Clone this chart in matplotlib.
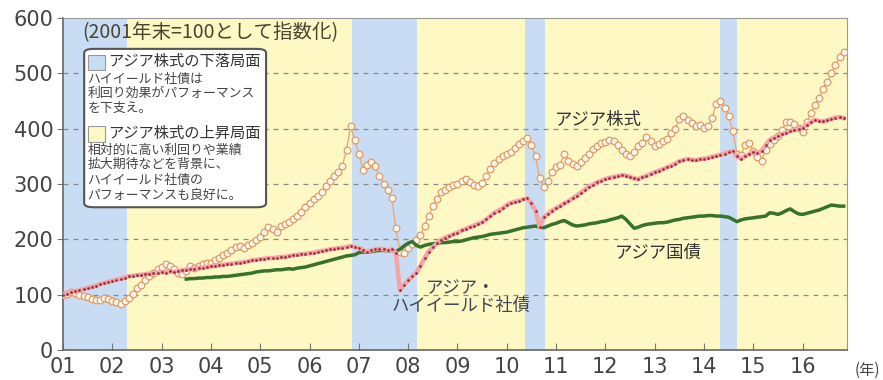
import numpy as np
import matplotlib.pyplot as plt
from matplotlib.patches import Rectangle, FancyBboxPatch

plt.rcParams['font.family'] = ['Noto Sans CJK JP', 'DejaVu Sans']

# Monthly index values (end of 2001 = 100), one row per year on the axis
asia_equity = [
    100, 102, 104, 103, 100, 98, 95, 92, 90, 91, 94, 92,
    89, 86, 84, 88, 94, 102, 112, 118, 127, 133, 140, 146,
    150, 155, 152, 146, 140, 137, 143, 151, 148, 152, 155, 157,
    158, 162, 166, 172, 176, 180, 186, 188, 185, 190, 194, 198,
    205, 214, 222, 218, 214, 224, 228, 232, 236, 242, 249, 258,
    265, 273, 279, 285, 296, 305, 314, 322, 333, 362, 405, 380,
    355, 325, 335, 340, 332, 315, 300, 290, 275, 220, 178, 175,
    185, 192, 198, 207, 225, 242, 260, 272, 285, 290, 295, 298,
    300, 305, 309, 303, 298, 296, 302, 314, 328, 338, 345, 350,
    354, 358, 365, 372, 378, 383, 370, 350, 310, 295, 305, 322,
    330, 334, 355, 342, 336, 333, 340, 347, 355, 364, 368, 375,
    376, 380, 378, 370, 362, 355, 351, 358, 368, 375, 385, 378,
    368, 372, 378, 382, 392, 400, 418, 422, 415, 410, 404, 406,
    402, 405, 420, 445, 450, 438, 422, 395, 355, 352, 370, 375,
    360, 348, 342, 362, 372, 380, 386, 398, 412, 412, 408, 402,
    394, 412, 428, 442, 455, 472, 485, 500, 515, 530, 538,
]
asia_high_yield = [
    100, 102, 104, 106, 108, 110, 112, 114, 116, 119, 121, 123,
    125, 127, 129, 131, 133, 134, 135, 136, 137, 138, 139, 140,
    141, 140, 142, 141, 143, 144, 145, 146, 147, 148, 149, 150,
    151, 152, 153, 154, 155, 156, 157, 158, 159, 160, 162, 163,
    164, 165, 166, 166, 167, 168, 168, 170, 171, 172, 173, 174,
    175, 176, 178, 179, 180, 182, 183, 184, 185, 186, 188, 186,
    184, 181, 178, 180, 182, 183, 182, 180, 182, 176, 108, 118,
    126, 133, 140, 152, 166, 178, 186, 193, 199, 203, 206, 209,
    212, 216, 219, 222, 225, 228, 231, 236, 242, 248, 252, 256,
    262, 266, 268, 270, 272, 274, 265, 252, 222, 240, 246, 252,
    256, 260, 265, 269, 274, 279, 284, 290, 295, 299, 303, 306,
    309, 311, 313, 314, 316, 315, 313, 310, 309, 312, 315, 318,
    321, 324, 327, 330, 333, 337, 341, 343, 345, 344, 343, 345,
    346, 347, 349, 351, 353, 355, 358, 360, 350, 346, 350, 354,
    358, 356, 360, 370, 380, 384, 387, 390, 393, 396, 398, 400,
    402, 406, 412, 416, 414, 413, 415, 418, 420, 421, 419,
]
# government bond index is only available from mid-2003 (month 30)
gov_start_month = 30
asia_gov_bond = [
    128, 129, 129, 130, 130, 131,
    131, 132, 132, 133, 133, 134, 135, 136, 137, 138, 139, 141,
    142, 143, 143, 144, 145, 145, 146, 147, 146, 148, 149, 150,
    152, 154, 156, 158, 160, 162, 164, 166, 168, 170, 171, 172,
    176, 177, 177, 178, 179, 180, 180, 179, 180, 178, 182, 188,
    193, 196, 189, 186, 189, 191, 192, 193, 194, 194, 195, 196,
    196, 197, 199, 201, 203, 204, 205, 207, 209, 210, 211, 212,
    213, 215, 217, 219, 221, 222, 223, 224, 222, 221, 224, 227,
    229, 232, 234, 230, 226, 224, 225, 226, 228, 229, 230, 232,
    233, 235, 237, 239, 242, 236, 228, 220, 222, 225, 227, 228,
    229, 230, 230, 231, 233, 235, 236, 238, 239, 240, 241, 242,
    242, 243, 243, 242, 242, 241, 240, 236, 232, 235, 237, 238,
    239, 240, 241, 242, 248, 247, 245, 248, 252, 255, 250, 246,
    245, 247, 249, 251, 253, 256, 259, 262, 261, 260, 260,
]

year_labels = ['01', '02', '03', '04', '05', '06', '07', '08',
               '09', '10', '11', '12', '13', '14', '15', '16']
# equity down phases (blue) and up phases (yellow), in axis years
down_phases = [(0.0, 1.3), (5.86, 7.18), (9.37, 9.78), (13.32, 13.66)]
up_phases = [(1.3, 5.86), (7.18, 9.37), (9.78, 13.32), (13.66, 15.9)]

t_eq = np.arange(len(asia_equity)) / 12
t_hy = np.arange(len(asia_high_yield)) / 12
t_gov = (gov_start_month + np.arange(len(asia_gov_bond))) / 12

fig = plt.figure(figsize=(8.83, 3.80), dpi=100)
ax = fig.add_axes([63 / 883, 30 / 380, 784 / 883, 332 / 380])

for a, b in down_phases:
    ax.axvspan(a, b, color='#c8dcf3', lw=0, zorder=0)
for a, b in up_phases:
    ax.axvspan(a, b, color='#fdf8c4', lw=0, zorder=0)

for v in [100, 200, 300, 400, 500]:
    ax.axhline(v, color='#8a8a8a', lw=0.9, ls=(0, (4, 4)), zorder=1)

ax.plot(t_eq, asia_equity, color='#e9aa78', lw=1.0, marker='o', ms=4.8,
        mfc='#fff8ea', mec='#e39a66', mew=0.9, zorder=3)
ax.plot(t_gov, asia_gov_bond, color='#35722a', lw=2.5, zorder=4,
        solid_joinstyle='round')
ax.plot(t_hy, asia_high_yield, color='#f3a5a5', lw=3.2, zorder=5,
        solid_joinstyle='round')
ax.plot(t_hy, asia_high_yield, ls='none', marker='o', ms=2.0,
        mfc='#a82a40', mec='none', zorder=6)

ax.set_xlim(0, 15.9)
ax.set_ylim(0, 600)
ax.set_xticks(range(len(year_labels)))
ax.set_xticklabels(year_labels)
ax.set_yticks(range(0, 601, 100))
ax.tick_params(axis='x', direction='in', length=5, pad=5, color='#777',
               labelsize=15, labelcolor='#444')
ax.tick_params(axis='y', direction='out', length=4, pad=3, color='#777',
               labelsize=15, labelcolor='#444')
for lab in ax.get_xticklabels() + ax.get_yticklabels():
    lab.set_family('DejaVu Sans')
for side in ['left', 'bottom']:
    ax.spines[side].set_color('#666')
    ax.spines[side].set_linewidth(1.2)
for side in ['top', 'right']:
    ax.spines[side].set_color('#999')
    ax.spines[side].set_linewidth(0.8)

fig.text(867 / 883, 1 - 370 / 380, '(年)', ha='center', va='center',
         fontsize=11, color='#444')

# series labels
ax.text(10.85, 416, 'アジア株式', ha='center', va='center', fontsize=12.5,
        color='#333')
ax.text(12.07, 175, 'アジア国債', ha='center', va='center', fontsize=12.5,
        color='#333')
ax.text(8.07, 96, 'アジア・\nハイイールド社債', ha='center', va='center',
        fontsize=12.5, color='#3f4656', linespacing=1.0)

ax.text(0.024, 0.955, '(2001年末=100として指数化)', transform=ax.transAxes,
        ha='left', va='center', fontsize=14, color='#4a4430')

# explanatory box for the shaded phases
box = FancyBboxPatch((0.027, 0.43), 0.232, 0.477,
                     boxstyle='round,pad=0,rounding_size=0.012',
                     transform=ax.transAxes, fc='white', ec='#555',
                     lw=1.5, zorder=7)
ax.add_patch(box)
ax.add_patch(Rectangle((0.032, 0.842), 0.021, 0.047, transform=ax.transAxes,
                       fc='#c8dcf3', ec='#999', lw=0.8, zorder=8))
ax.add_patch(Rectangle((0.032, 0.628), 0.021, 0.047, transform=ax.transAxes,
                       fc='#fdf8c4', ec='#999', lw=0.8, zorder=8))

heads = [('アジア株式の下落局面', 0.8675), ('アジア株式の上昇局面', 0.6536)]
for s, y in heads:
    ax.text(0.057, y, s, transform=ax.transAxes, ha='left', va='center',
            fontsize=11, color='#333', zorder=9)
notes = [('ハイイールド社債は', 0.8163),
         ('利回り効果がパフォーマンス', 0.7741),
         ('を下支え。', 0.7289),
         ('相対的に高い利回りや業績', 0.6024),
         ('拡大期待などを背景に、', 0.5602),
         ('ハイイールド社債の', 0.5120),
         ('パフォーマンスも良好に。', 0.4669)]
for s, y in notes:
    ax.text(0.031, y, s, transform=ax.transAxes, ha='left', va='center',
            fontsize=9.3, color='#444', zorder=9)

fig.savefig('out.png', dpi=100)
